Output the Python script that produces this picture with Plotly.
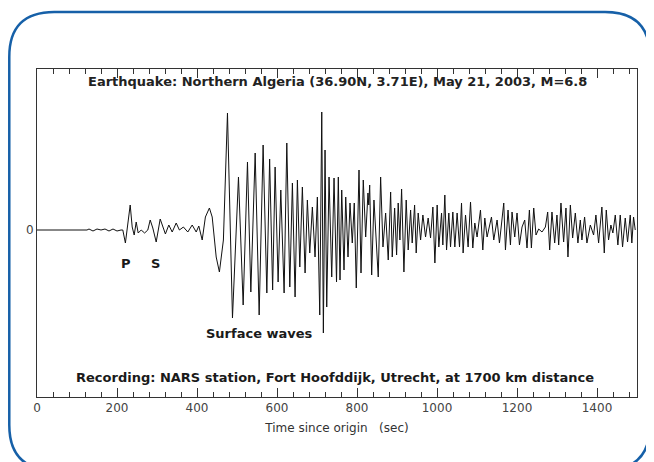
import plotly.graph_objects as go

# ---- data (time since origin in s, ground motion in arbitrary units) ----
time_s = [0, 125, 130, 140, 150, 160, 170, 180, 190, 200, 210, 214.5,
          221, 228, 233, 238, 243, 248, 253, 260.5, 269, 277, 283, 289.5, 298,
          308, 314.5, 321, 329.5, 338, 348, 356, 366, 377, 388, 398, 404.5,
          413, 421, 431, 438, 448, 456, 466,
          476.2, 488.7, 503.7, 515.4, 526.2, 534.6, 545.4, 555.4, 565.3, 574.6,
          581.6, 589.1, 595.3, 602.8, 609.5, 617.8, 624.5, 632, 638.5, 645.2,
          651, 657, 663.4, 670.2, 675.9, 681.9, 688.4, 695.1, 700.9, 706.9,
          711.9, 715.9, 720.1, 724.3, 730.1, 736.8, 742.6, 748.8, 753.3, 757.5,
          761.8, 767.5, 771.8, 777.5, 782.5, 788.2, 793.2, 798.2, 805, 810,
          815.7, 821.7, 827.4, 829.4, 831.7, 836.7, 842.4, 846.6, 853.1, 859.1,
          864.9, 871.6, 878.1, 884.1, 888.1, 894.1, 899, 903, 907.3, 911.5,
          917.3, 923, 928, 934, 938, 944, 948, 953, 959, 964.7,
          971.4, 977.9, 983.9, 989.7, 994.7, 1000.4, 1004.6, 1011.4, 1014.6, 1019.6,
          1023.9, 1029.6, 1033.8, 1039.6, 1044.6, 1050.3, 1056.3, 1061.3, 1065.3, 1071.3,
          1077.8, 1083.8, 1089.5, 1094.5, 1100.2, 1108.7, 1114.5, 1119.5, 1125.2, 1131.2,
          1136.2, 1141.9, 1150.2, 1156.1, 1162.6, 1166.9, 1171.1, 1177.6, 1183.6, 1187.6,
          1194.3, 1200.1, 1206.1, 1212.6, 1219.3, 1225, 1231, 1236, 1241.8, 1247.5,
          1254.2, 1262.5, 1271, 1276.7, 1281.7, 1287.4, 1294.2, 1299.9, 1304.2, 1309.9,
          1316.6, 1322.4, 1327.4, 1333.4, 1339.1, 1345.8, 1352.3, 1358.3, 1362.3, 1369,
          1374.8, 1383.3, 1391.5, 1397.3, 1404, 1412.2, 1418.2, 1423.2, 1428.9, 1434.7,
          1439.7, 1445.7, 1452.2, 1458.1, 1463.9, 1470.6, 1476.4, 1483.1, 1487.1, 1491.4,
          1495.6]
amplitude = [0, 0, 1, -1, 1, 0, 1, -1, 1, -1, 0, 0,
             -13, 10, 25, 3, -5, 8, -3, 0, -3, 0, 10, 2, -12,
             11, 3, -4, 5, -2, 7, 0, 3, -2, 5, -2, 4,
             -10, 13, 22, 13, -27, -42, -10,
             117, -88, 53, -75, 68, -62, 77, -85, 85, -63,
             71, -60, 63, -52, 40, -63, 87, -57, 47, -67,
             50, -37, 43, -43, 30, -23, 23, -27, 33, -85,
             118, -103, 80, -77, 53, -47, 52, -52, 53, -50,
             40, -40, 33, -27, 27, -13, 27, -58, 60, -43,
             50, -7, 37, 25, 45, -45, 30, 0, -47, 53,
             -17, 17, -30, 38, -27, 22, -25, 27, -10, 41,
             -42, 30, -20, 20, -13, 25, -23, 17, -10, 15,
             -7, 12, -8, 23, -33, 25, -17, 17, -15, 35,
             -20, 17, -17, 18, -17, 17, -17, 27, -23, 15,
             -17, 28, -18, 7, -7, 20, -20, 12, -7, 4,
             13, -10, 10, -13, 15, 27, -20, 20, -15, 18,
             -7, 17, -15, 3, 10, -18, 20, -18, 22, -5,
             1, -2, 3, 18, -20, 18, -13, 15, -15, 27,
             -12, 22, -27, 25, -8, 17, -13, 10, -10, 13,
             -13, 5, -5, 15, -13, 23, -23, 20, -10, 5,
             -3, 15, -15, 15, -17, 12, -12, 15, -13, 13,
             0]

x_tick_values = [0, 200, 400, 600, 800, 1000, 1200, 1400]
x_tick_labels = ["0", "200", "400", "600", "800", "1000", "1200", "1400"]
y_tick_values = [0]
y_tick_labels = ["0"]

title_text = "Earthquake: Northern Algeria (36.90N, 3.71E), May 21, 2003, M=6.8"
recording_text = "Recording: NARS station, Fort Hoofddijk, Utrecht, at 1700 km distance"
phase_labels = ["P", "S", "Surface waves"]
phase_times = [222, 297, 557]
phase_levels = [-33, -33, -103]

fig = go.Figure()
fig.add_trace(go.Scatter(x=time_s, y=amplitude, mode="lines",
                         line=dict(color="#111111", width=1), hoverinfo="skip",
                         showlegend=False))

font_main = "DejaVu Sans"
for lab, t, a in zip(phase_labels, phase_times, phase_levels):
    fig.add_annotation(x=t, y=a, xref="x", yref="y", text="<b>%s</b>" % lab,
                       showarrow=False, font=dict(family=font_main, size=13, color="#1a1a1a"))

fig.add_annotation(x=0.5, y=0.963, xref="paper", yref="paper", yanchor="middle",
                   text="<b>%s</b>" % title_text,
                   showarrow=False, font=dict(family=font_main, size=13, color="#222222"))
fig.add_annotation(x=0.497, y=0.058, xref="paper", yref="paper", yanchor="middle",
                   text="<b>%s</b>" % recording_text,
                   showarrow=False, font=dict(family=font_main, size=13, color="#1a1a1a"))

# rounded outer frame (paper coordinates)
L, R, T, B = -0.0462, 1.0217, 1.1738, -0.2226
rx, ry = 0.075, 0.137
path = (f"M {L+rx},{T} L {R-rx},{T} Q {R},{T} {R},{T-ry} L {R},{B+ry} "
        f"Q {R},{B} {R-rx},{B} L {L+rx},{B} Q {L},{B} {L},{B+ry} "
        f"L {L},{T-ry} Q {L},{T} {L+rx},{T} Z")
fig.add_shape(type="path", path=path, xref="paper", yref="paper",
              line=dict(color="#1660a8", width=2.5), layer="below")

fig.update_layout(
    width=646, height=454,
    margin=dict(l=29, r=17, t=61, b=65),
    paper_bgcolor="white", plot_bgcolor="white",
    font=dict(family=font_main, size=12, color="#333333"),
    xaxis=dict(range=[0, 1500], tickvals=x_tick_values, ticktext=x_tick_labels,
               ticks="inside", ticklen=9, tickwidth=1, tickcolor="#333333",
               minor=dict(dtick=40, tick0=0, ticks="inside", ticklen=5, tickcolor="#333333"),
               showline=True, linecolor="#333333", linewidth=1, mirror="ticks",
               showgrid=False, zeroline=False,
               tickfont=dict(family=font_main, size=12, color="#444444"),
               title=dict(text="Time since origin &nbsp; (sec)", standoff=9,
                          font=dict(family=font_main, size=12, color="#333333"))),
    yaxis=dict(range=[-167, 161], tickvals=y_tick_values, ticktext=y_tick_labels,
               ticks="", showline=True, linecolor="#333333", linewidth=1, mirror=True,
               showgrid=False, zeroline=False,
               tickfont=dict(family=font_main, size=12, color="#444444")),
)

fig.write_html("out.html")
